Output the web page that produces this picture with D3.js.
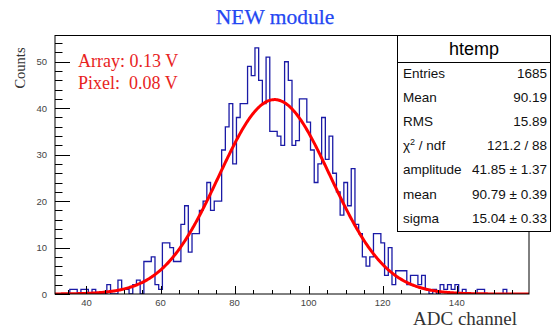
<!DOCTYPE html>
<html>
<head>
<meta charset="utf-8">
<script src="https://cdn.jsdelivr.net/npm/d3@7"></script>
<style>
  html, body { margin: 0; padding: 0; background: #fff; }
  svg { display: block; }
</style>
</head>
<body>
<svg id="chart" width="552" height="336"></svg>
<script>
// ---------- data ----------
const binLow = 31.5, binWidth = 1;
const counts = [
  0,0,0,0,1,1,0,1,1,0,
  1,0,0,0,2,0,0,3,1,1,
  0,2,3,0,7,7,8,2,1,11,
  11,10,7,7,15,19,9,13,13,18,
  20,24,18,20,20,31,36,41,28,38,
  41,41,49,47,53,46,41,51,35,35,
  34,32,50,46,32,33,42,42,37,31,
  24,28,38,29,34,26,22,17,24,19,
  27,15,13,8,6,8,13,13,11,4,
  10,2,5,5,5,2,4,4,2,4,
  1,0,1,0,2,1,2,1,2,0,
  1,0,0,0,1,1,0,0,0,0,
  0,1,0,0,0,0,0,0
];
const xTickLabels = [40, 60, 80, 100, 120, 140];
const yTickLabels = [0, 10, 20, 30, 40, 50];
const statLabels = ["Entries", "Mean", "RMS", "χ2 / ndf", "amplitude", "mean", "sigma"];
const statValues = ["1685", "90.19", "15.89", "121.2 / 88", "41.85 ± 1.37", "90.79 ± 0.39", "15.04 ± 0.33"];
const fitParams = { amplitude: 41.85, mean: 90.79, sigma: 15.04 };
const annotations = ["Array: 0.13 V", "Pixel:  0.08 V"];

// ---------- layout ----------
const svg = d3.select("#chart");
const L = 55, R = 529, T = 35.5, B = 294;
const xMax = binLow + counts.length * binWidth;
const x = d3.scaleLinear().domain([binLow, xMax]).range([L, R]);
const yTop = 1.05 * d3.max(counts);
const y = d3.scaleLinear().domain([0, yTop]).range([B, T]);

svg.append("defs").append("clipPath").attr("id", "clip")
  .append("rect").attr("x", L).attr("y", T).attr("width", R - L).attr("height", B - T);

// title
svg.append("text").attr("x", 275).attr("y", 24).attr("text-anchor", "middle")
  .attr("font-family", "Liberation Serif, serif").attr("font-size", 21.5)
  .attr("fill", "#2447f2").attr("stroke", "#2447f2").attr("stroke-width", 0.25)
  .text("NEW module");

// histogram step outline
const pts = [[binLow, 0]];
counts.forEach((c, i) => pts.push([binLow + i * binWidth, c]));
pts.push([xMax, counts[counts.length - 1]]);
pts.push([xMax, 0]);
const step = d3.line().x(d => x(d[0])).y(d => y(d[1])).curve(d3.curveStepAfter);
svg.append("path").attr("clip-path", "url(#clip)")
  .attr("d", step(pts)).attr("fill", "none")
  .attr("stroke", "#1a1aa6").attr("stroke-width", 1.3);

// gaussian fit curve (from the fitted parameters)
const fx = d3.range(binLow, xMax + 0.001, 0.25);
const fit = d3.line()
  .x(d => x(d))
  .y(d => y(fitParams.amplitude * Math.exp(-0.5 * Math.pow((d - fitParams.mean) / fitParams.sigma, 2))));
svg.append("path").attr("clip-path", "url(#clip)")
  .attr("d", fit(fx)).attr("fill", "none")
  .attr("stroke", "#ff0000").attr("stroke-width", 3);

// frame
svg.append("rect").attr("x", L).attr("y", T).attr("width", R - L).attr("height", B - T)
  .attr("fill", "none").attr("stroke", "#000").attr("stroke-width", 1);

// y axis ticks
const yMajorLen = 15, yMinorLen = 7.5;
const yMinor = d3.range(0, yTop, 2);
svg.append("g").selectAll("line").data(yMinor).join("line")
  .attr("x1", L).attr("x2", d => L + (d % 10 === 0 ? yMajorLen : yMinorLen))
  .attr("y1", d => Math.round(y(d)) + 0.5).attr("y2", d => Math.round(y(d)) + 0.5)
  .attr("stroke", "#000").attr("stroke-width", 1);
svg.append("g").selectAll("text").data(yTickLabels).join("text")
  .attr("x", 47).attr("y", d => y(d) + 3.5).attr("text-anchor", "end")
  .attr("font-family", "Liberation Sans, Arial, sans-serif").attr("font-size", 9.5)
  .attr("fill", "#444").text(d => d);

// x axis ticks
const xMajorLen = 8, xMinorLen = 4;
const xMinor = d3.range(35, xMax, 5);
svg.append("g").selectAll("line").data(xMinor).join("line")
  .attr("x1", d => Math.round(x(d)) + 0.5).attr("x2", d => Math.round(x(d)) + 0.5)
  .attr("y1", B).attr("y2", d => B - (d % 20 === 0 ? xMajorLen : xMinorLen))
  .attr("stroke", "#000").attr("stroke-width", 1);
svg.append("g").selectAll("text").data(xTickLabels).join("text")
  .attr("x", d => x(d)).attr("y", 305.5).attr("text-anchor", "middle")
  .attr("font-family", "Liberation Sans, Arial, sans-serif").attr("font-size", 9.5)
  .attr("fill", "#444").text(d => d);

// axis titles
svg.append("text").attr("transform", "translate(24.5,68) rotate(-90)")
  .attr("text-anchor", "middle").attr("font-family", "Liberation Serif, serif")
  .attr("font-size", 14.5).attr("fill", "#333").text("Counts");
svg.append("text").attr("x", 517).attr("y", 325).attr("text-anchor", "end")
  .attr("font-family", "Liberation Serif, serif").attr("font-size", 19)
  .attr("fill", "#333").text("ADC channel");

// annotations
svg.append("g").selectAll("text").data(annotations).join("text")
  .attr("x", 78).attr("y", (d, i) => 67 + i * 22)
  .attr("font-family", "Liberation Serif, serif").attr("font-size", 18)
  .attr("fill", "#e8231d").attr("xml:space", "preserve").style("white-space", "pre")
  .text(d => d);

// stats box
const bx = 397, bw = 153, by = T, bh = 196;
svg.append("rect").attr("x", bx + 0.5).attr("y", by).attr("width", bw).attr("height", bh)
  .attr("fill", "#fff").attr("stroke", "#000").attr("stroke-width", 1);
svg.append("line").attr("x1", bx).attr("x2", bx + bw).attr("y1", 62.5).attr("y2", 62.5)
  .attr("stroke", "#000").attr("stroke-width", 1);
svg.append("text").attr("x", 474).attr("y", 55).attr("text-anchor", "middle")
  .attr("font-family", "Liberation Sans, Arial, sans-serif").attr("font-size", 18)
  .attr("fill", "#000").text("htemp");
const rows = svg.append("g").attr("font-family", "Liberation Sans, Arial, sans-serif")
  .attr("font-size", 13.5).attr("fill", "#111");
statLabels.forEach((lab, i) => {
  const ty = 78 + i * 24.1;
  const t = rows.append("text").attr("x", 403).attr("y", ty);
  if (lab.indexOf("χ2") === 0) {
    t.append("tspan").text("χ");
    t.append("tspan").attr("dy", -5).attr("font-size", 9).text("2");
    t.append("tspan").attr("dy", 5).text(" / ndf");
  } else {
    t.text(lab);
  }
  rows.append("text").attr("x", 547).attr("y", ty).attr("text-anchor", "end").text(statValues[i]);
});
</script>
</body>
</html>
